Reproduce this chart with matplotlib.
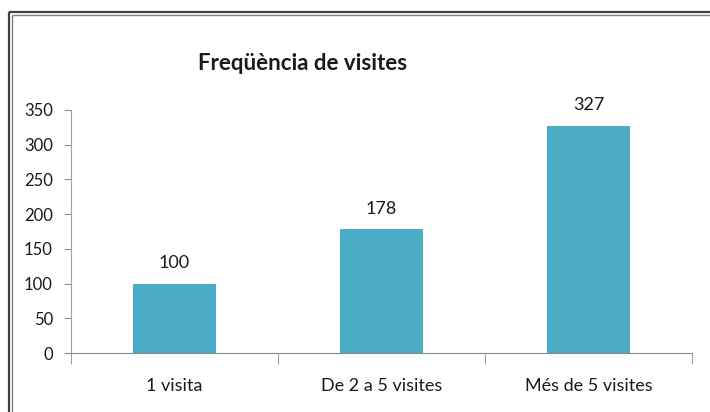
import matplotlib
matplotlib.use('agg')
import matplotlib.pyplot as plt
from matplotlib.lines import Line2D

plt.rcParams['font.family'] = ['Lato', 'DejaVu Sans']

categories = ['1 visita', 'De 2 a 5 visites', 'Més de 5 visites']
visits = [100, 178, 327]
y_ticks = [0, 50, 100, 150, 200, 250, 300, 350]

W, H = 710, 412
fig = plt.figure(figsize=(W / 100, H / 100), dpi=100)


def fx(px):
    return px / W


def fy(py):
    return 1 - py / H


# outer frame (double line at left and top, rest cut off)
for off, col, lw in [(9, '#404040', 1.6), (12, '#808080', 1.0)]:
    fig.add_artist(Line2D([fx(off), fx(off)], [fy(off + 3), 0],
                          color=col, lw=lw, solid_capstyle='butt',
                          transform=fig.transFigure))
    fig.add_artist(Line2D([fx(off), 1], [fy(off + 3), fy(off + 3)],
                          color=col, lw=lw, solid_capstyle='butt',
                          transform=fig.transFigure))

ax = fig.add_axes([fx(71), fy(353), fx(692) - fx(71), fy(110) - fy(353)])

x_pos = range(len(categories))
bars = ax.bar(x_pos, visits, width=0.4, color='#4BACC6')

for rect, v in zip(bars, visits):
    ax.annotate(str(v), (rect.get_x() + rect.get_width() / 2, v),
                xytext=(0, 15), textcoords='offset points', ha='center',
                va='center', fontsize=13, color='#1a1a1a')

ax.set_xlim(-0.5, len(categories) - 0.5)
ax.set_ylim(0, 350)
ax.set_yticks(y_ticks)
ax.set_xticks(list(x_pos))
ax.set_xticklabels(categories)
ax.set_xticks([i - 0.5 for i in range(len(categories) + 1)], minor=True)

for side in ['top', 'right']:
    ax.spines[side].set_visible(False)
ax.spines['left'].set_color('#a0a0a0')
ax.spines['bottom'].set_color('#8a8a8a')

ax.tick_params(axis='y', length=5, color='#8a8a8a', labelsize=12,
               labelcolor='#1a1a1a', pad=8)
ax.tick_params(axis='x', which='major', length=0, labelsize=13,
               labelcolor='#1a1a1a', pad=18)
ax.tick_params(axis='x', which='minor', length=8, color='#8a8a8a')

fig.text(fx(303), fy(63), 'Freqüència de visites', ha='center', va='center',
         fontsize=16, fontweight='bold', color='#1a1a1a')

plt.savefig('out.png')
plt.close()
